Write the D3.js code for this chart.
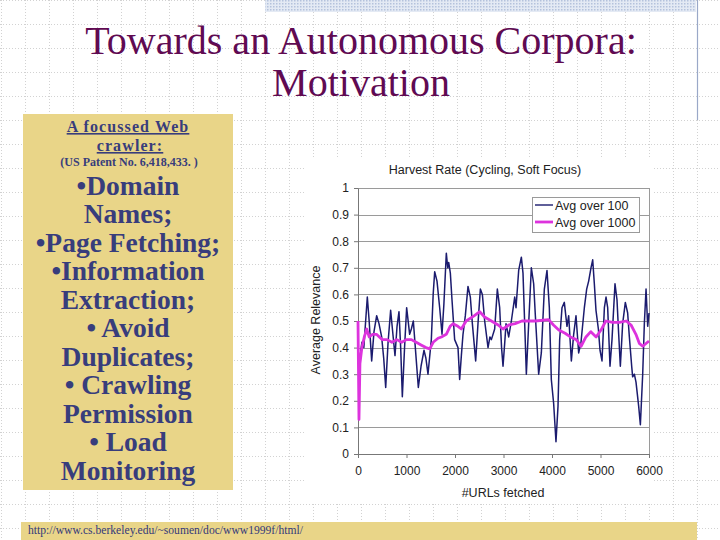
<!DOCTYPE html>
<html lang="en">
<head>
  <meta charset="UTF-8">
  <title>Towards an Autonomous Corpora: Motivation</title>
  <style>
    body { margin: 0; background: #fff; }
    svg { display: block; }
    .grid line { stroke: #d2d2d2; stroke-dasharray: 1 2; }
    .box-text { font-family: "Liberation Serif", serif; font-weight: bold; fill: #383d7c; text-anchor: middle; }
    .chart-text { font-family: "Liberation Sans", Arial, sans-serif; fill: #222; }
  </style>
</head>
<body>
<div id="slide"></div>
<script src="https://d3js.org/d3.v7.min.js"></script>
<script>
  // data: [#URLs fetched, average relevance]
  const urls100 = [40, 80, 120, 192, 230, 282, 330, 385, 433, 488, 530, 571, 620, 673, 720, 763, 805, 845, 880, 914,
    960, 1003, 1065, 1100, 1141, 1190, 1244, 1300, 1361, 1400, 1443, 1512, 1550, 1581, 1629, 1684, 1732, 1770, 1821, 1850,
    1870, 1904, 1938, 1993, 2062, 2096, 2131, 2165, 2213, 2268, 2316, 2358, 2426, 2474, 2523, 2564, 2612, 2681, 2720, 2750,
    2818, 2873, 2921, 2960, 2990, 3030, 3052, 3107, 3162, 3231, 3258, 3313, 3368, 3402, 3437, 3471, 3519, 3574, 3622, 3657,
    3725, 3780, 3842, 3897, 3945, 3986, 4034, 4082, 4124, 4158, 4206, 4254, 4309, 4344, 4399, 4447, 4495, 4550, 4598, 4667,
    4715, 4756, 4804, 4839, 4873, 4907, 4956, 4990, 5031, 5080, 5114, 5148, 5196, 5237, 5299, 5340, 5375, 5409, 5457, 5512,
    5560, 5595, 5643, 5663, 5698, 5732, 5787, 5822, 5870, 5904, 5939, 5973, 6000]
  const avg100 = [0.36, 0.42, 0.40, 0.59, 0.50, 0.35, 0.46, 0.52, 0.49, 0.44, 0.36, 0.25, 0.42, 0.54, 0.45, 0.37, 0.48, 0.535, 0.40, 0.215,
    0.40, 0.55, 0.45, 0.47, 0.50, 0.38, 0.25, 0.33, 0.39, 0.36, 0.30, 0.43, 0.60, 0.685, 0.65, 0.55, 0.45, 0.56, 0.755, 0.70,
    0.72, 0.68, 0.58, 0.43, 0.40, 0.28, 0.37, 0.45, 0.52, 0.63, 0.59, 0.49, 0.35, 0.49, 0.62, 0.60, 0.50, 0.40, 0.44, 0.43,
    0.47, 0.62, 0.55, 0.40, 0.33, 0.43, 0.49, 0.44, 0.50, 0.59, 0.55, 0.69, 0.74, 0.68, 0.49, 0.30, 0.49, 0.70, 0.64, 0.52,
    0.30, 0.38, 0.62, 0.69, 0.55, 0.28, 0.19, 0.046, 0.18, 0.43, 0.55, 0.57, 0.48, 0.52, 0.35, 0.45, 0.52, 0.38, 0.42, 0.55,
    0.62, 0.65, 0.70, 0.73, 0.64, 0.54, 0.47, 0.39, 0.35, 0.55, 0.59, 0.55, 0.33, 0.43, 0.64, 0.58, 0.45, 0.33, 0.49, 0.57,
    0.53, 0.44, 0.33, 0.29, 0.30, 0.27, 0.18, 0.11, 0.30, 0.49, 0.62, 0.48, 0.53]

  const urls1000 = [0, 20, 40, 80, 130, 180, 230, 300, 380, 500, 600, 700, 800, 900, 1000, 1100, 1200, 1300, 1400, 1480,
    1550, 1650, 1720, 1820, 1900, 1960, 2060, 2130, 2230, 2400, 2510, 2610, 2750, 2890, 2990, 3110, 3240, 3380, 3660, 3930,
    4030, 4140, 4270, 4380, 4500, 4600, 4700, 4800, 4910, 5010, 5110, 5250, 5390, 5530, 5630, 5730, 5800, 5870, 6000]
  const avg1000 = [0.50, 0.13, 0.34, 0.40, 0.44, 0.47, 0.44, 0.45, 0.45, 0.43, 0.43, 0.42, 0.43, 0.42, 0.43, 0.43, 0.42, 0.41, 0.40, 0.395,
    0.42, 0.435, 0.44, 0.45, 0.48, 0.49, 0.48, 0.47, 0.50, 0.52, 0.535, 0.515, 0.50, 0.485, 0.47, 0.485, 0.49, 0.50, 0.50, 0.505,
    0.485, 0.466, 0.454, 0.44, 0.43, 0.405, 0.44, 0.46, 0.44, 0.466, 0.50, 0.495, 0.495, 0.50, 0.485, 0.45, 0.416, 0.405, 0.425]

  const xTicks = [0, 1000, 2000, 3000, 4000, 5000, 6000]
  const yTicks = [0, 0.1, 0.2, 0.3, 0.4, 0.5, 0.6, 0.7, 0.8, 0.9, 1]
  const seriesNames = ['Avg over 100', 'Avg over 1000']
  const seriesColors = ['#1b1b6e', '#dd33dd']

  const boxLines = ['•Domain', 'Names;', '•Page Fetching;', '•Information', 'Extraction;', '• Avoid',
    'Duplicates;', '• Crawling', 'Permission', '• Load', 'Monitoring']

  main()

  function main() {
    const W = 720, H = 540
    const svg = d3.select('#slide').append('svg')
      .attr('width', W)
      .attr('height', H)

    // slide background grid
    const grid = svg.append('g').attr('class', 'grid')
    grid.selectAll('.h').data(d3.range(0, H, 24)).enter().append('line')
      .attr('x1', 0).attr('x2', W).attr('y1', d => d + 0.5).attr('y2', d => d + 0.5)
    grid.selectAll('.v').data(d3.range(1, W, 24)).enter().append('line')
      .attr('y1', 0).attr('y2', H).attr('x1', d => d + 0.5).attr('x2', d => d + 0.5)

    // top right stippled band + line
    const pat = svg.append('defs').append('pattern')
      .attr('id', 'stip').attr('width', 3).attr('height', 3)
      .attr('patternUnits', 'userSpaceOnUse')
    pat.append('rect').attr('width', 3).attr('height', 3).attr('fill', '#e4eaf4')
    pat.append('rect').attr('width', 1.5).attr('height', 1.5).attr('fill', '#b4c2dc')
    svg.append('rect').attr('x', 265).attr('y', 0).attr('width', 431).attr('height', 12)
      .attr('fill', 'url(#stip)')
    svg.append('line').attr('x1', 697.5).attr('x2', 697.5).attr('y1', 0).attr('y2', 120)
      .attr('stroke', '#9aa8c8').attr('stroke-width', 1.2)

    // title
    svg.append('text')
      .attr('x', 361).attr('y', 54)
      .attr('text-anchor', 'middle')
      .style('font-family', '"Liberation Serif", serif')
      .style('font-size', '40px')
      .style('fill', '#600a52')
      .selectAll('tspan')
      .data(['Towards an Autonomous Corpora:', 'Motivation'])
      .enter().append('tspan')
      .attr('x', 361)
      .attr('dy', (d, i) => i ? 42 : 0)
      .text(d => d)

    // left box
    svg.append('rect').attr('x', 23).attr('y', 114).attr('width', 210).attr('height', 376)
      .attr('fill', '#e9d588')
    const bx = 128
    svg.append('text').attr('class', 'box-text')
      .attr('x', bx).attr('y', 132).style('font-size', '16px')
      .style('letter-spacing', '1.1px')
      .style('text-decoration', 'underline')
      .text('A focussed Web')
    svg.append('text').attr('class', 'box-text')
      .attr('x', bx + 2).attr('y', 151).style('font-size', '16px')
      .style('letter-spacing', '1.1px')
      .style('text-decoration', 'underline')
      .text('crawler: ')
    svg.append('text').attr('class', 'box-text')
      .attr('x', bx + 1).attr('y', 165.5).style('font-size', '12px')
      .text('(US Patent No. 6,418,433. )')
    svg.selectAll('.big').data(boxLines).enter().append('text')
      .attr('class', 'box-text big')
      .attr('x', bx)
      .attr('y', (d, i) => 194.5 + i * 28.5)
      .style('font-size', '27.5px')
      .text(d => d)

    // bottom url bar
    svg.append('rect').attr('x', 21).attr('y', 522).attr('width', 676).attr('height', 18)
      .attr('fill', '#e9d588')
    svg.append('text').attr('x', 28).attr('y', 534)
      .style('font-family', '"Liberation Serif", serif')
      .style('font-size', '11.6px')
      .style('fill', '#34397a')
      .text('http://www.cs.berkeley.edu/~soumen/doc/www1999f/html/')

    // chart
    svg.append('rect').attr('x', 304).attr('y', 157).attr('width', 350).attr('height', 345)
      .attr('fill', '#fff')

    const xScale = d3.scaleLinear().domain([0, 6000]).range([358, 649])
    const yScale = d3.scaleLinear().domain([0, 1]).range([454, 188])

    const chart = svg.append('g').attr('class', 'chart-text')

    // horizontal grid lines
    chart.selectAll('.gl').data(yTicks.slice(1)).enter().append('line')
      .attr('x1', 358).attr('x2', 649)
      .attr('y1', d => Math.round(yScale(d)) + 0.5).attr('y2', d => Math.round(yScale(d)) + 0.5)
      .attr('stroke', '#9a9a9a')
    chart.append('line').attr('x1', 649.5).attr('x2', 649.5).attr('y1', 188).attr('y2', 454)
      .attr('stroke', '#9a9a9a')

    const xAxis = d3.axisBottom(xScale).tickValues(xTicks).tickSize(4).tickSizeOuter(0)
      .tickFormat(d3.format('d'))
    const gx = chart.append('g').attr('transform', 'translate(0,454)').call(xAxis)
    const yAxis = d3.axisLeft(yScale).tickValues(yTicks).tickSize(4).tickSizeOuter(0)
      .tickFormat(d => d === 0 || d === 1 ? d : d3.format('.1f')(d))
    const gy = chart.append('g').attr('transform', 'translate(358,0)').call(yAxis)
    ;[gx, gy].forEach(g => {
      g.select('.domain').attr('stroke', '#777')
      g.selectAll('.tick line').attr('stroke', '#777')
      g.selectAll('.tick text')
        .style('font-family', '"Liberation Sans", Arial, sans-serif')
        .style('font-size', '12px')
        .attr('fill', '#222')
    })
    gx.selectAll('.tick text').attr('dy', '1.2em')
    gy.selectAll('.tick text').attr('x', -9)

    // lines
    const line = d3.line().x(d => xScale(d[0])).y(d => yScale(d[1]))
    chart.append('path')
      .datum(urls100.map((u, i) => [u, avg100[i]]))
      .attr('d', line)
      .attr('fill', 'none')
      .attr('stroke', seriesColors[0])
      .attr('stroke-width', 1.5)
      .attr('stroke-linejoin', 'round')
    chart.append('path')
      .datum(urls1000.map((u, i) => [u, avg1000[i]]))
      .attr('d', line)
      .attr('fill', 'none')
      .attr('stroke', seriesColors[1])
      .attr('stroke-width', 2.8)
      .attr('stroke-linejoin', 'round')

    // titles
    chart.append('text').attr('x', 485).attr('y', 174)
      .attr('text-anchor', 'middle').style('font-size', '12.5px')
      .text('Harvest Rate (Cycling, Soft Focus)')
    chart.append('text').attr('x', 503).attr('y', 497)
      .attr('text-anchor', 'middle').style('font-size', '12.5px')
      .text('#URLs fetched')
    chart.append('text')
      .attr('transform', 'translate(320,320) rotate(-90)')
      .attr('text-anchor', 'middle').style('font-size', '12.5px')
      .text('Average Relevance')

    // legend
    const lg = chart.append('g')
    lg.append('rect').attr('x', 532.5).attr('y', 197.5).attr('width', 107).attr('height', 35)
      .attr('fill', '#fff').attr('stroke', '#9a9a9a')
    seriesNames.forEach((name, i) => {
      let y = 205 + i * 17
      lg.append('line').attr('x1', 535).attr('x2', 553).attr('y1', y).attr('y2', y)
        .attr('stroke', seriesColors[i]).attr('stroke-width', i ? 2.8 : 1.4)
      lg.append('text').attr('x', 555).attr('y', y + 4.5)
        .style('font-size', '12.5px')
        .text(name)
    })
  }
</script>
</body>
</html>
